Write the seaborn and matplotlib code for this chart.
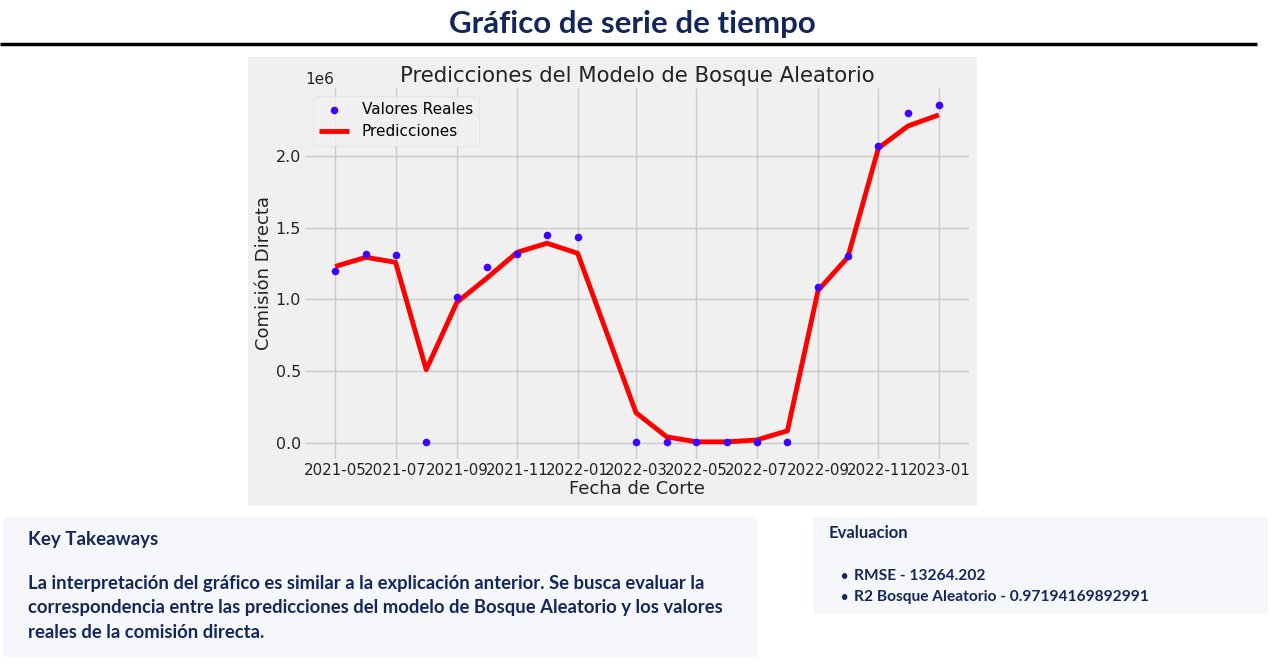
import matplotlib.pyplot as plt
import matplotlib.dates as mdates
from matplotlib.patches import Rectangle
import seaborn as sns
import pandas as pd

# Monthly cut dates (2022-02 is missing in the source data)
fechas = ["2021-05-01", "2021-06-01", "2021-07-01", "2021-08-01", "2021-09-01",
          "2021-10-01", "2021-11-01", "2021-12-01", "2022-01-01", "2022-03-01",
          "2022-04-01", "2022-05-01", "2022-06-01", "2022-07-01", "2022-08-01",
          "2022-09-01", "2022-10-01", "2022-11-01", "2022-12-01", "2023-01-01"]
valores_reales = [1.20e6, 1.315e6, 1.31e6, 5e3, 1.02e6, 1.224e6, 1.315e6, 1.448e6, 1.434e6, 5e3,
                  5e3, 5e3, 5e3, 5e3, 5e3, 1.084e6, 1.30e6, 2.07e6, 2.30e6, 2.357e6]
predicciones = [1.23e6, 1.294e6, 1.259e6, 0.51e6, 0.98e6, 1.147e6, 1.329e6, 1.392e6, 1.322e6, 0.21e6,
                0.042e6, 0.007e6, 0.007e6, 0.02e6, 0.084e6, 1.063e6, 1.294e6, 2.056e6, 2.21e6, 2.287e6]

titulo = "Gráfico de serie de tiempo"
key_title = "Key Takeaways"
key_text = ["La interpretación del gráfico es similar a la explicación anterior. Se busca evaluar la",
            "correspondencia entre las predicciones del modelo de Bosque Aleatorio y los valores",
            "reales de la comisión directa."]
eval_title = "Evaluacion"
eval_items = ["RMSE - 13264.202", "R2 Bosque Aleatorio - 0.97194169892991"]

df = pd.DataFrame({"Fecha de Corte": pd.to_datetime(fechas),
                   "Real": valores_reales, "Pred": predicciones})

navy = "#14275a"
ui_font = ["Lato", "DejaVu Sans"]

plt.style.use("fivethirtyeight")
fig = plt.figure(figsize=(12.7, 6.7), dpi=100)
fig.patch.set_facecolor("white")
W, H = 1270, 670

def box(x0, y0, x1, y1, color):
    fig.patches.append(Rectangle((x0 / W, 1 - y1 / H), (x1 - x0) / W, (y1 - y0) / H,
                                 transform=fig.transFigure, facecolor=color,
                                 edgecolor="none", zorder=-5))

# header
fig.text(632 / W, 1 - 24 / H, titulo, ha="center", va="center", fontsize=22.5,
         fontweight="bold", color=navy, family=ui_font)
fig.add_artist(plt.Line2D([0, 1257 / W], [1 - 44 / H] * 2, color="black", lw=2.5,
                          transform=fig.transFigure))

# chart panel
box(248, 57, 977, 506, "#f0f0f0")
ax = fig.add_axes([305 / W, 1 - 459 / H, 664 / W, 371 / H])
ax.set_facecolor("#f0f0f0")

sns.scatterplot(data=df, x="Fecha de Corte", y="Real", ax=ax, color="#4000ff",
                s=30, linewidth=0, label="Valores Reales", zorder=3)
sns.lineplot(data=df, x="Fecha de Corte", y="Pred", ax=ax, color="red",
             linewidth=3.5, label="Predicciones", zorder=2)

ax.xaxis.set_major_locator(mdates.MonthLocator(bymonth=[1, 3, 5, 7, 9, 11]))
ax.xaxis.set_major_formatter(mdates.DateFormatter("%Y-%m"))
ax.set_yticks([0, 0.5e6, 1.0e6, 1.5e6, 2.0e6])
ax.tick_params(axis="x", labelsize=10.8, colors="#222222", pad=3)
ax.tick_params(axis="y", labelsize=11.4, colors="#222222", pad=3)
ax.yaxis.get_offset_text().set_fontsize(11)
ax.set_title("Predicciones del Modelo de Bosque Aleatorio", fontsize=15.3, color="#222222", pad=4)
ax.set_xlabel("Fecha de Corte", fontsize=13, color="#222222", labelpad=1)
ax.set_ylabel("Comisión Directa", fontsize=13, color="#222222", labelpad=2)
for s in ax.spines.values():
    s.set_visible(False)
ax.grid(True, color="#cbcbcb", linewidth=1)
leg = ax.legend(loc="upper left", fontsize=11, frameon=True, facecolor="#f0f0f0",
                edgecolor="#dddddd")

# takeaway boxes
box(3, 517, 758, 657, "#f5f7fb")
fig.text(28 / W, 1 - 539 / H, key_title, ha="left", va="center", fontsize=13.5,
         fontweight="bold", color=navy, family=ui_font)
for i, line in enumerate(key_text):
    fig.text(28 / W, 1 - (584 + 24 * i) / H, line, ha="left", va="center", fontsize=13.3,
             fontweight="bold", color=navy, family=ui_font)

box(813, 517, 1268, 614, "#f5f7fb")
fig.text(829 / W, 1 - 533 / H, eval_title, ha="left", va="center", fontsize=12,
         fontweight="bold", color=navy, family=ui_font)
for i, item in enumerate(eval_items):
    y = 1 - (576 + 21 * i) / H
    fig.text(840 / W, y, "•", ha="left", va="center", fontsize=9,
             fontweight="bold", color=navy, family=ui_font)
    fig.text(854 / W, y, item, ha="left", va="center", fontsize=11.2,
             fontweight="bold", color=navy, family=ui_font)

fig.savefig("out.png", dpi=100, facecolor="white")
